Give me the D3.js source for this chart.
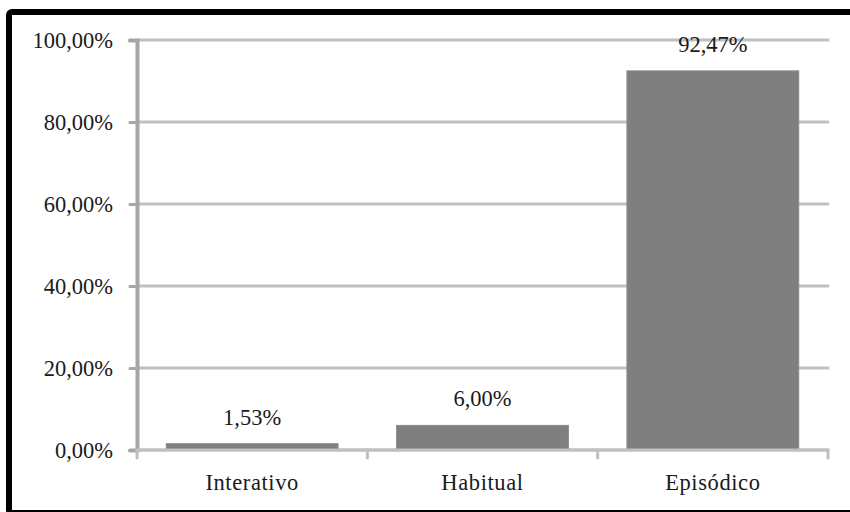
<!DOCTYPE html>
<html>
<head>
<meta charset="utf-8">
<script src="https://cdn.jsdelivr.net/npm/d3@7"></script>
<style>
  html, body { margin: 0; padding: 0; background: #fff; }
  svg { display: block; }
  text { font-family: "Times New Roman", Times, "Liberation Serif", "Nimbus Roman", serif; fill: #1a1a1a; }
</style>
</head>
<body>
<svg id="chart" width="850" height="512"></svg>
<script>
// Distribution by category (share of total, %)
const categories = ["Interativo", "Habitual", "Episódico"];
const values = [1.53, 6.00, 92.47];
const yTicks = [0, 20, 40, 60, 80, 100];

const fmt = v => v.toFixed(2).replace(".", ",") + "%";
const serif = '"Times New Roman", Times, "Liberation Serif", "Nimbus Roman", serif';

const svg = d3.select("#chart");
const plot = { left: 137, right: 828, top: 40, bottom: 450 };

// Outer frame
svg.append("rect")
  .attr("x", 9).attr("y", 12)
  .attr("width", 900).attr("height", 501)
  .attr("rx", 3)
  .attr("fill", "none")
  .attr("stroke", "#000")
  .attr("stroke-width", 6);

const x = d3.scaleBand()
  .domain(categories)
  .range([plot.left, plot.right])
  .paddingInner(0.254)
  .paddingOuter(0.127);

const y = d3.scaleLinear()
  .domain([0, 100])
  .range([plot.bottom, plot.top]);

// Horizontal gridlines
svg.append("g")
  .selectAll("line")
  .data(yTicks)
  .join("line")
  .attr("x1", plot.left).attr("x2", plot.right)
  .attr("y1", d => y(d)).attr("y2", d => y(d))
  .attr("stroke", "#c0c0c0")
  .attr("stroke-width", 3)
  .attr("stroke-linecap", "round");

// Y axis
const yAxis = svg.append("g")
  .attr("transform", `translate(${plot.left},0)`)
  .call(d3.axisLeft(y).tickValues(yTicks).tickSize(7).tickPadding(17).tickFormat(d => fmt(d)));
yAxis.attr("font-family", null).attr("font-size", null);
yAxis.select(".domain")
  .attr("stroke", "#a6a6a6").attr("stroke-width", 4).attr("stroke-linecap", "round");
yAxis.selectAll(".tick line")
  .attr("stroke", "#a6a6a6").attr("stroke-width", 3).attr("stroke-linecap", "round");
yAxis.selectAll(".tick text")
  .attr("font-size", 22.5)
  .attr("dy", "0.33em")
  .attr("fill", "#1a1a1a")
  .style("font-family", serif);

// Bars
svg.append("g")
  .selectAll("rect")
  .data(values)
  .join("rect")
  .attr("x", (d, i) => x(categories[i]))
  .attr("width", x.bandwidth())
  .attr("y", d => y(d))
  .attr("height", d => y(0) - y(d))
  .attr("fill", "#7f7f7f")
  .attr("stroke", "#8c8c8c")
  .attr("stroke-width", 1);

// X axis baseline and category ticks
const step = (plot.right - plot.left) / categories.length;
const xAxis = svg.append("g")
  .attr("transform", `translate(0,${plot.bottom})`);
xAxis.append("line")
  .attr("x1", plot.left).attr("x2", plot.right)
  .attr("stroke", "#c0c0c0").attr("stroke-width", 3).attr("stroke-linecap", "round");
xAxis.selectAll("line.tk")
  .data(d3.range(categories.length + 1))
  .join("line")
  .attr("class", "tk")
  .attr("x1", i => plot.left + i * step).attr("x2", i => plot.left + i * step)
  .attr("y1", 0).attr("y2", 8)
  .attr("stroke", "#c0c0c0").attr("stroke-width", 3).attr("stroke-linecap", "round");
xAxis.selectAll("text")
  .data(categories)
  .join("text")
  .attr("x", d => x(d) + x.bandwidth() / 2)
  .attr("y", 40)
  .attr("text-anchor", "middle")
  .attr("font-size", 22.5)
  .attr("letter-spacing", "0.6px")
  .text(d => d);

// Value labels
svg.append("g")
  .selectAll("text")
  .data(values)
  .join("text")
  .attr("x", (d, i) => x(categories[i]) + x.bandwidth() / 2)
  .attr("y", d => y(d) - 19)
  .attr("text-anchor", "middle")
  .attr("font-size", 22.5)
  .text(d => fmt(d));
</script>
</body>
</html>
